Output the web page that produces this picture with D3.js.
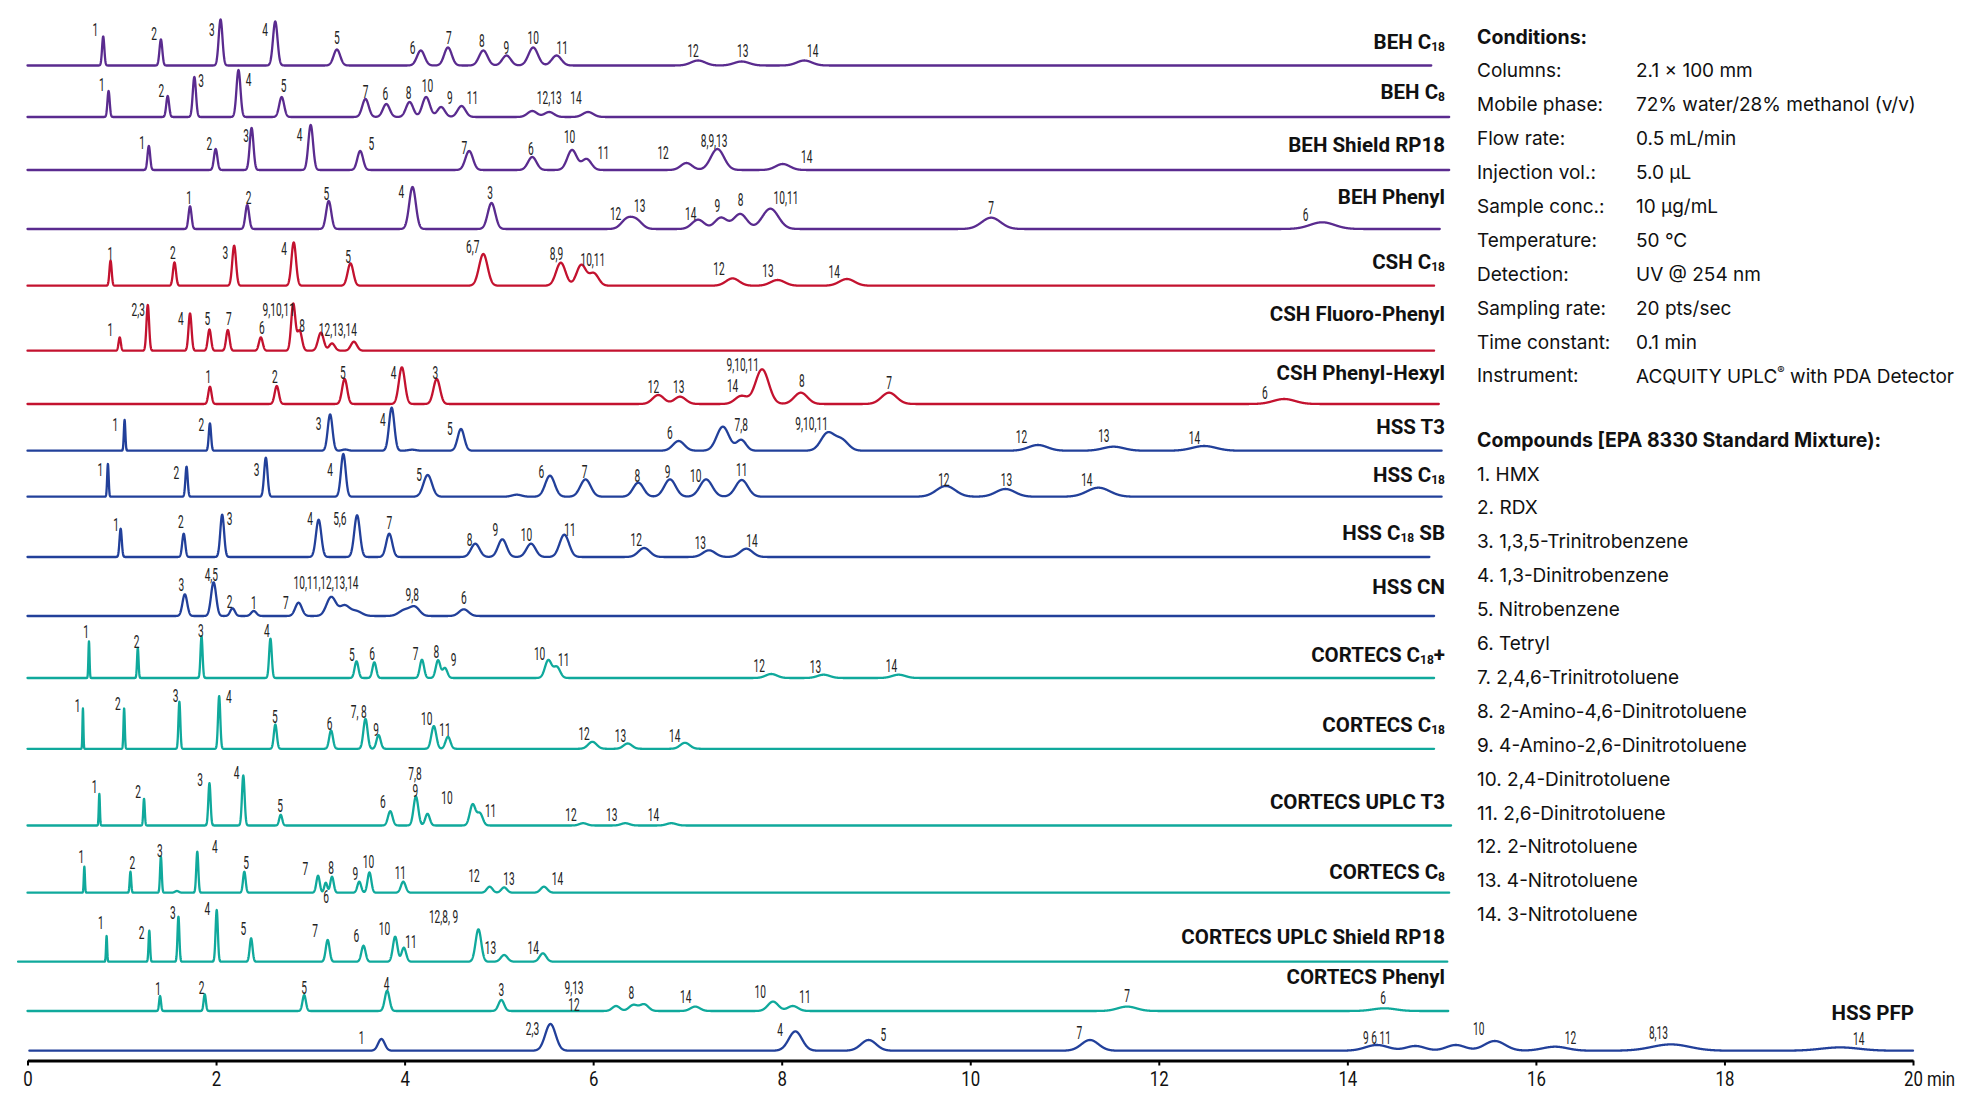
<!DOCTYPE html>
<html><head><meta charset="utf-8">
<script src="https://cdn.jsdelivr.net/npm/d3@7"></script>
<style>
html,body{margin:0;padding:0;background:#fff;}
svg{display:block;}
</style></head>
<body>
<svg id="chart" width="1972" height="1098"></svg>
<script>
// ---------------- DATA ----------------
const columnNames = ["BEH C18","BEH C8","BEH Shield RP18","BEH Phenyl","CSH C18","CSH Fluoro-Phenyl","CSH Phenyl-Hexyl","HSS T3","HSS C18","HSS C18 SB","HSS CN","CORTECS C18+","CORTECS C18","CORTECS UPLC T3","CORTECS C8","CORTECS UPLC Shield RP18","CORTECS Phenyl","HSS PFP"];
const columnLabelParts = [
  [["BEH C",0],["18",1]],[["BEH C",0],["8",1]],[["BEH Shield RP18",0]],[["BEH Phenyl",0]],
  [["CSH C",0],["18",1]],[["CSH Fluoro-Phenyl",0]],[["CSH Phenyl-Hexyl",0]],
  [["HSS T3",0]],[["HSS C",0],["18",1]],[["HSS C",0],["18",1],[" SB",0]],[["HSS CN",0]],
  [["CORTECS C",0],["18",1],["+",0]],[["CORTECS C",0],["18",1]],[["CORTECS UPLC T3",0]],
  [["CORTECS C",0],["8",1]],[["CORTECS UPLC Shield RP18",0]],[["CORTECS Phenyl",0]],[["HSS PFP",0]]
];
const columnFamily = ["BEH","BEH","BEH","BEH","CSH","CSH","CSH","HSS","HSS","HSS","HSS","CORTECS","CORTECS","CORTECS","CORTECS","CORTECS","CORTECS","HSS"];
// run window (min) of each trace
const runStart = [0,0,0,0,0,0,0,0,0,0,0,0,0,0,0,-0.1,0,0.02];
const runEnd = [14.89,15.08,15.08,14.98,14.92,14.92,14.97,15.0,15.0,14.87,14.92,14.92,14.92,15.1,15.08,15.06,15.07,20];

// peaks: [retention time (min), height (mAU, relative), sigma (min)]
const pk_BEH_C18 = [[0.803,29,0.012],[1.415,26,0.015],[2.048,46,0.02],[2.628,44,0.024],[3.282,16,0.035],[4.172,15,0.04],[4.46,18,0.04],[4.835,15,0.045],[5.081,10,0.045],[5.364,18,0.05],[5.612,10,0.05],[7.113,5,0.075],[7.575,4,0.08],[8.24,5,0.08]];
const pk_BEH_C8 = [[0.86,26,0.012],[1.487,21,0.015],[1.77,40,0.017],[2.238,47,0.021],[2.696,20,0.026],[3.585,18,0.034],[3.806,13,0.036],[4.053,15,0.038],[4.228,20,0.04],[4.387,10,0.04],[4.604,11,0.042],[5.354,6,0.05],[5.534,5,0.05],[5.946,5,0.055]];
const pk_BEH_Shield = [[1.287,24,0.014],[1.996,21,0.018],[2.377,42,0.02],[3.004,45,0.025],[3.529,19,0.03],[4.685,19,0.04],[5.354,13,0.045],[5.776,20,0.05],[5.93,11,0.05],[6.99,7,0.06],[7.318,21,0.07],[8.011,6,0.075]];
const pk_BEH_Phenyl = [[1.724,22.7,0.016],[2.331,24,0.02],[3.195,28,0.027],[4.084,42,0.035],[4.922,26,0.04],[6.357,9.3,0.06],[6.46,8.3,0.06],[7.113,9.3,0.065],[7.355,11.3,0.065],[7.56,15,0.07],[7.88,20.3,0.085],[10.222,11.3,0.1],[13.734,6.7,0.13]];
const pk_CSH_C18 = [[0.881,25,0.012],[1.559,23.3,0.016],[2.192,40,0.02],[2.824,43.3,0.024],[3.426,22.3,0.03],[4.835,31.7,0.045],[5.657,23,0.05],[5.874,20.7,0.05],[6.007,12.3,0.05],[7.479,7.3,0.07],[7.957,5.7,0.075],[8.692,6.7,0.08]];
const pk_CSH_Fluoro = [[0.978,13.3,0.012],[1.276,45.7,0.014],[1.724,37.3,0.016],[1.93,21.3,0.017],[2.125,20.7,0.018],[2.475,13.3,0.02],[2.819,46.7,0.022],[2.886,20,0.025],[3.112,18,0.03],[3.23,7.3,0.03],[3.462,9,0.032]];
const pk_CSH_PhHex = [[1.935,17.3,0.017],[2.644,18,0.022],[3.364,25,0.027],[3.971,36.7,0.032],[4.341,25,0.035],[6.691,9,0.06],[6.922,7.3,0.06],[7.571,8,0.065],[7.792,34.7,0.07],[8.203,11.3,0.07],[9.139,11.3,0.08],[13.33,5,0.115]];
const pk_HSS_T3 = [[1.03,30.7,0.008],[1.935,27.3,0.012],[3.21,36.3,0.025],[3.37,1.2,0.03],[3.863,43,0.028],[4.08,1,0.04],[4.598,21.7,0.035],[6.907,9.7,0.06],[7.376,24,0.065],[7.571,10.7,0.05],[8.486,17.3,0.07],[8.635,10.7,0.07],[10.718,5.7,0.1],[11.52,4,0.11],[12.481,4.7,0.125]];
const pk_HSS_C18 = [[0.853,32.7,0.008],[1.687,30,0.012],[2.528,39,0.018],[3.35,42.7,0.025],[4.245,21.7,0.045],[5.19,2,0.05],[5.542,21,0.05],[5.919,17.3,0.055],[6.479,14,0.055],[6.815,17.3,0.06],[7.198,17.3,0.065],[7.576,16.7,0.065],[9.741,10.7,0.1],[10.373,7.7,0.1],[11.36,9,0.12]];
const pk_HSS_C18SB = [[0.988,28.3,0.012],[1.657,23.3,0.016],[2.065,42.3,0.02],[3.088,37.3,0.028],[3.496,41.7,0.03],[3.837,23.3,0.032],[4.75,13.3,0.045],[5.037,17.7,0.045],[5.341,13.3,0.048],[5.694,22.3,0.05],[6.541,9,0.06],[7.229,6.7,0.065],[7.625,8.3,0.065]];
const pk_HSS_CN = [[1.669,21.7,0.025],[1.974,33.7,0.027],[2.175,7.7,0.025],[2.4,5,0.028],[2.875,13.3,0.035],[3.222,19,0.05],[3.362,10,0.05],[3.483,5,0.06],[4.001,6,0.06],[4.11,8.5,0.05],[4.628,6.7,0.05]];
const pk_CORTECS_C18p = [[0.652,36.7,0.006],[1.17,30,0.008],[1.846,41.7,0.011],[2.577,39.3,0.014],[3.49,16.7,0.02],[3.679,15.7,0.02],[4.184,18.3,0.022],[4.355,17.7,0.024],[4.428,10,0.025],[5.524,17.7,0.035],[5.615,11,0.035],[7.89,4,0.06],[8.445,3.3,0.065],[9.241,3.3,0.07]];
const pk_CORTECS_C18 = [[0.588,40.3,0.005],[1.025,40.3,0.007],[1.611,47,0.01],[2.033,52.7,0.012],[2.629,24.3,0.016],[3.22,18.3,0.02],[3.585,30,0.022],[3.724,13.7,0.022],[4.31,22.7,0.026],[4.46,12,0.026],[5.992,7,0.045],[6.367,5.3,0.045],[6.974,6,0.05]];
const pk_CORTECS_T3 = [[0.762,31.7,0.006],[1.236,26.7,0.008],[1.93,42.3,0.012],[2.289,50,0.014],[2.686,10.7,0.016],[3.848,14.3,0.024],[4.12,29,0.025],[4.243,11.7,0.024],[4.722,21,0.03],[4.799,12,0.03],[5.894,2.3,0.04],[6.341,2.3,0.045],[6.83,2.3,0.05]];
const pk_CORTECS_C8 = [[0.603,26,0.006],[1.092,21,0.008],[1.415,36,0.009],[1.585,1.7,0.02],[1.801,41,0.011],[2.3,21,0.014],[3.082,17,0.018],[3.164,10,0.016],[3.23,16,0.018],[3.519,11,0.02],[3.627,20.3,0.02],[3.986,11,0.025],[4.902,6,0.03],[5.056,5.3,0.03],[5.478,6,0.035]];
const pk_CORTECS_Shield = [[0.839,25.7,0.006],[1.292,31,0.008],[1.601,45,0.01],[2.007,51.7,0.012],[2.372,23.4,0.015],[3.184,21.7,0.02],[3.564,16,0.022],[3.9,25,0.024],[3.992,14,0.024],[4.783,32.4,0.03],[5.056,6.7,0.035],[5.467,8.4,0.035]];
const pk_CORTECS_Phenyl = [[1.406,15,0.01],[1.88,16.7,0.012],[2.935,16,0.018],[3.815,20.3,0.025],[5.026,11,0.03],[6.243,5,0.04],[6.426,6,0.045],[6.541,6.7,0.045],[7.083,4.4,0.05],[7.908,9.4,0.055],[8.118,5,0.055],[11.664,4.4,0.1],[14.394,2.7,0.12]];
const pk_HSS_PFP = [[3.754,11.7,0.035],[5.547,26.7,0.055],[8.145,19.3,0.07],[8.922,10.7,0.08],[11.27,10.7,0.09],[14.314,5.7,0.12],[14.722,4.7,0.1],[15.15,5.7,0.1],[15.564,9.7,0.11],[16.203,4,0.13],[17.432,6.3,0.2],[19.227,3.3,0.2]];

// peak labels: [text, time (min), height above baseline (mAU)]
const lb_BEH_C18 = [["1",0.72,36],["2",1.343,32],["3",1.955,36],["4",2.52,36],["5",3.282,28],["6",4.084,18],["7",4.47,28],["8",4.82,25],["9",5.08,18],["10",5.364,28],["11",5.673,18],["12",7.06,15],["13",7.586,15],["14",8.33,15]];
const lb_BEH_C8 = [["1",0.788,32],["2",1.42,26],["3",1.842,36],["4",2.346,37],["5",2.716,31],["7",3.585,25.6],["6",3.796,23],["8",4.043,24],["10",4.243,31],["9",4.48,19],["11",4.72,19],["12,13",5.534,19],["14",5.817,19]];
const lb_BEH_Shield = [["1",1.215,26.7],["2",1.93,25.7],["3",2.32,34],["4",2.886,35],["5",3.647,26],["7",4.635,21.7],["6",5.339,20.7],["10",5.75,32.7],["11",6.11,17],["12",6.742,16.7],["8,9,13",7.283,29.3],["14",8.265,13.3]];
const lb_BEH_Phenyl = [["1",1.713,30.7],["2",2.346,30.7],["5",3.17,35],["4",3.966,36.7],["3",4.906,36],["12",6.238,15],["13",6.495,22.7],["14",7.035,15],["9",7.318,22.7],["8",7.565,29.3],["10,11",8.045,30.7],["7",10.222,21.3],["6",13.558,13.7]];
const lb_CSH_C18 = [["1",0.88,32.3],["2",1.543,33],["3",2.099,33],["4",2.721,37.3],["5",3.4,29],["6,7",4.722,39],["8,9",5.611,32.3],["10,11",5.997,26.3],["12",7.334,17.3],["13",7.854,15],["14",8.558,14]];
const lb_CSH_Fluoro = [["1",0.88,20.7],["2,3",1.174,41.3],["4",1.626,32.3],["5",1.909,32.3],["7",2.135,32.3],["6",2.485,23.3],["9,10,11",2.665,41.3],["8",2.912,24.7],["12,13,14",3.292,20.7]];
const lb_CSH_PhHex = [["1",1.919,27.3],["2",2.624,27.3],["5",3.344,31.3],["4",3.884,31.3],["3",4.326,31.3],["12",6.64,17.3],["13",6.907,17.3],["14",7.479,18.3],["9,10,11",7.587,39],["8",8.214,23.3],["7",9.139,20.7],["6",13.124,11.3]];
const lb_HSS_T3 = [["1",0.932,25.7],["2",1.843,25.7],["3",3.087,27.3],["4",3.77,31.3],["5",4.48,22.3],["6",6.814,18],["7,8",7.571,26.3],["9,10,11",8.317,27.3],["12",10.543,14],["13",11.417,14.7],["14",12.378,13.3]];
const lb_HSS_C18 = [["1",0.774,26.7],["2",1.578,24],["3",2.43,26.7],["4",3.21,26.7],["5",4.154,21.7],["6",5.45,25],["7",5.908,25],["8",6.468,20.7],["9",6.79,25],["10",7.089,20.7],["11",7.576,26.7],["12",9.72,17.3],["13",10.384,17.3],["14",11.237,17.3]];
const lb_HSS_C18SB = [["1",0.939,31.7],["2",1.626,35],["3",2.144,38.3],["4",2.997,38.3],["5,6",3.313,38.3],["7",3.837,34],["8",4.69,17.3],["9",4.963,27.3],["10",5.292,21.7],["11",5.755,27.3],["12",6.456,17.3],["13",7.137,14],["14",7.685,15.7]];
const lb_HSS_CN = [["3",1.633,31],["4,5",1.95,41],["2",2.144,14.3],["1",2.4,12.7],["7",2.741,12.7],["10,11,12,13,14",3.167,32.7],["9,8",4.081,21],["6",4.628,17.7]];
const lb_CORTECS_C18p = [["1",0.622,45.7],["2",1.157,35.7],["3",1.839,46.7],["4",2.54,46.7],["5",3.441,23.3],["6",3.655,24.3],["7",4.117,24.3],["8",4.337,25.7],["9",4.519,18.3],["10",5.432,24.3],["11",5.688,18.3],["12",7.761,11.7],["13",8.358,11.3],["14",9.165,11.7]];
const lb_CORTECS_C18 = [["1",0.531,42.7],["2",0.958,45.3],["3",1.57,52.7],["4",2.135,52],["5",2.624,32],["6",3.205,25.3],["7, 8",3.513,37],["9",3.699,19.3],["10",4.234,30],["11",4.429,19.3],["12",5.904,15],["13",6.29,12.7],["14",6.865,13.3]];
const lb_CORTECS_T3 = [["1",0.711,39],["2",1.173,33.3],["3",1.832,45.7],["4",2.218,52.3],["5",2.68,20],["6",3.77,23.3],["7,8",4.109,52],["9",4.115,35],["10",4.449,27.7],["11",4.912,15],["12",5.765,10.7],["13",6.197,10.7],["14",6.64,10.7]];
const lb_CORTECS_C8 = [["1",0.572,36],["2",1.112,30],["3",1.405,41.7],["4",1.986,46],["5",2.32,29.4],["7",2.948,23.4],["8",3.22,24.4],["6",3.168,-4.6],["9",3.478,18.7],["10",3.616,31],["11",3.955,19.4],["12",4.737,16.7],["13",5.108,13.7],["14",5.622,13.7]];
const lb_CORTECS_Shield = [["1",0.778,38.4],["2",1.209,29],["3",1.543,48.4],["4",1.909,52.4],["5",2.289,32.4],["7",3.05,31],["6",3.487,25.7],["10",3.786,32.4],["11",4.068,20],["12,8, 9",4.413,44.4],["13",4.911,14],["14",5.364,14]];
const lb_CORTECS_Phenyl = [["1",1.386,21.7],["2",1.846,22.7],["5",2.935,22.7],["4",3.808,27],["3",5.026,21],["9,13",5.797,23.5],["12",5.797,6.5],["8",6.406,17.7],["14",6.981,14.3],["10",7.772,19.3],["11",8.246,14.3],["7",11.664,15],["6",14.38,12.7]];
const lb_HSS_PFP = [["1",3.544,12.4],["2,3",5.357,21.4],["4",7.982,20.7],["5",9.078,15.7],["7",11.158,17.4],["9 6 11",14.314,12.4],["10",15.393,21.4],["12",16.367,12.4],["8,13",17.3,17.4],["14",19.425,11.4]];

const xTicks = [0,2,4,6,8,10,12,14,16,18,20];
const xUnit = "min";
const conditionLabels = ["Columns:","Mobile phase:","Flow rate:","Injection vol.:","Sample conc.:","Temperature:","Detection:","Sampling rate:","Time constant:","Instrument:"];
const conditionValues = ["2.1 x 100 mm","72% water/28% methanol (v/v)","0.5 mL/min","5.0 µL","10 µg/mL","50 °C","UV @ 254 nm","20 pts/sec","0.1 min","ACQUITY UPLC® with PDA Detector"];
const compounds = ["HMX","RDX","1,3,5-Trinitrobenzene","1,3-Dinitrobenzene","Nitrobenzene","Tetryl","2,4,6-Trinitrotoluene","2-Amino-4,6-Dinitrotoluene","4-Amino-2,6-Dinitrotoluene","2,4-Dinitrotoluene","2,6-Dinitrotoluene","2-Nitrotoluene","4-Nitrotoluene","3-Nitrotoluene"];

const peakSets = [pk_BEH_C18,pk_BEH_C8,pk_BEH_Shield,pk_BEH_Phenyl,pk_CSH_C18,pk_CSH_Fluoro,pk_CSH_PhHex,pk_HSS_T3,pk_HSS_C18,pk_HSS_C18SB,pk_HSS_CN,pk_CORTECS_C18p,pk_CORTECS_C18,pk_CORTECS_T3,pk_CORTECS_C8,pk_CORTECS_Shield,pk_CORTECS_Phenyl,pk_HSS_PFP];
const labelSets = [lb_BEH_C18,lb_BEH_C8,lb_BEH_Shield,lb_BEH_Phenyl,lb_CSH_C18,lb_CSH_Fluoro,lb_CSH_PhHex,lb_HSS_T3,lb_HSS_C18,lb_HSS_C18SB,lb_HSS_CN,lb_CORTECS_C18p,lb_CORTECS_C18,lb_CORTECS_T3,lb_CORTECS_C8,lb_CORTECS_Shield,lb_CORTECS_Phenyl,lb_HSS_PFP];

// ---------------- LAYOUT / STYLE ----------------
const layout = {
  baselineY: [65.5,117,170,229,285.7,350.7,404,450.7,496.7,557,616,678,748.8,825.5,892.7,961.7,1011,1050.7],
  labelY: [41.7,92,145,197,261.7,314,372.7,426.7,475,532.7,587,655,725,801.7,871.7,936.7,977,1013],
  labelRight: 1445, labelRightLast: 1914,
  axisY: 1060.5, x0: 27.5, x1: 1913,
  panelX: 1477, valueX: 1636
};
const familyColor = {BEH:"#5a2b8f", CSH:"#c3122f", HSS:"#22409a", CORTECS:"#10a99c"};

const svg = d3.select("#chart");
const x = d3.scaleLinear().domain([0,20]).range([layout.x0, layout.x1]);

const rows = columnNames.map((name,i)=>({name, parts: columnLabelParts[i], family: columnFamily[i],
  start: runStart[i], end: runEnd[i], peaks: peakSets[i], labels: labelSets[i],
  base: layout.baselineY[i], labelY: layout.labelY[i]}));

function signal(t, peaks){
  let s = 0;
  for (const [t0,h,w] of peaks){ const z=(t-t0)/w; if (Math.abs(z)<8) s += h*Math.exp(-0.5*z*z); }
  return s;
}

const line = d3.line().x(d=>x(d[0])).y(d=>d[1]);
const traces = svg.append("g");
rows.forEach((r,i)=>{
  const y = d3.scaleLinear().domain([0,50]).range([r.base, r.base-50]);
  const ts = d3.range(r.start, r.end, 0.002).concat(r.peaks.map(p=>p[0])).concat([r.end]).sort((a,b)=>a-b);
  const pts = ts.map(t=>[t, y(signal(t, r.peaks))]);
  traces.append("path").attr("d", line(pts)).attr("fill","none")
    .attr("stroke", familyColor[r.family]).attr("stroke-width",2.3)
    .attr("stroke-linejoin","round").attr("stroke-linecap","round");
  // peak labels
  const g = svg.append("g");
  r.labels.forEach(([txt,t,h])=>{
    g.append("text").attr("transform",`translate(${x(t)},${y(h)}) scale(0.58,1)`)
      .attr("text-anchor","middle").attr("dominant-baseline","central")
      .attr("font-family","Roboto, 'DejaVu Sans', sans-serif").attr("font-size",17.5)
      .attr("fill","#222").text(txt);
  });
  // column label
  const lt = svg.append("text")
    .attr("x", i===rows.length-1 ? layout.labelRightLast : layout.labelRight)
    .attr("y", r.labelY).attr("dominant-baseline","central").attr("text-anchor","end")
    .attr("font-family","Roboto, sans-serif").attr("font-weight",700).attr("font-size",20.5).attr("fill","#111");
  let sub = false;
  r.parts.forEach(([s,isSub])=>{
    const ts2 = lt.append("tspan").text(s);
    if (isSub && !sub){ ts2.attr("dy",5).attr("font-size",12); sub=true; }
    else if (!isSub && sub){ ts2.attr("dy",-5); sub=false; }
    else if (isSub) ts2.attr("font-size",12);
  });
});

// x axis
const axis = d3.axisBottom(x).tickValues(xTicks).tickSize(5).tickSizeOuter(0).tickFormat(d=>d);
const ag = svg.append("g").attr("transform",`translate(0,${layout.axisY})`).call(axis);
ag.select(".domain").attr("stroke","#000").attr("stroke-width",3);
ag.selectAll(".tick line").attr("stroke","#000").attr("stroke-width",2);
ag.selectAll(".tick text").attr("font-family","Roboto, sans-serif").attr("font-size",21).attr("fill","#111")
  .attr("dy","0.85em").attr("transform","scale(0.8,1)");
ag.append("text").attr("transform",`translate(${x(20)+14},0) scale(0.8,1)`).attr("y",8).attr("dy","0.85em")
  .attr("font-family","Roboto, sans-serif")
  .attr("font-size",21).attr("fill","#111").attr("text-anchor","start").text(xUnit);

// conditions panel
const panel = svg.append("g").attr("font-family","Inter, 'Noto Sans', sans-serif").attr("fill","#111");
panel.append("text").attr("x",layout.panelX).attr("y",37.3).attr("dominant-baseline","central")
  .attr("font-weight",700).attr("font-size",19.5).text("Conditions:");
conditionLabels.forEach((c,i)=>{
  const yy = 70.8 + i*33.9;
  panel.append("text").attr("x",layout.panelX).attr("y",yy).attr("dominant-baseline","central").attr("font-size",19).text(c);
  const v = panel.append("text").attr("x",layout.valueX).attr("y",yy).attr("dominant-baseline","central").attr("font-size",19);
  const val = conditionValues[i];
  if (val.includes("®")){
    const [a,b] = val.split("®");
    v.append("tspan").text(a);
    v.append("tspan").text("®").attr("font-size",11).attr("dy",-6);
    v.append("tspan").text(b).attr("dy",6);
  } else v.text(val);
});
panel.append("text").attr("x",layout.panelX).attr("y",440).attr("dominant-baseline","central")
  .attr("font-weight",700).attr("font-size",19.5).text("Compounds [EPA 8330 Standard Mixture):");
compounds.forEach((c,i)=>{
  panel.append("text").attr("x",layout.panelX).attr("y",474+i*33.9).attr("dominant-baseline","central")
    .attr("font-size",19).text(`${i+1}. ${c}`);
});
</script>
</body></html>
